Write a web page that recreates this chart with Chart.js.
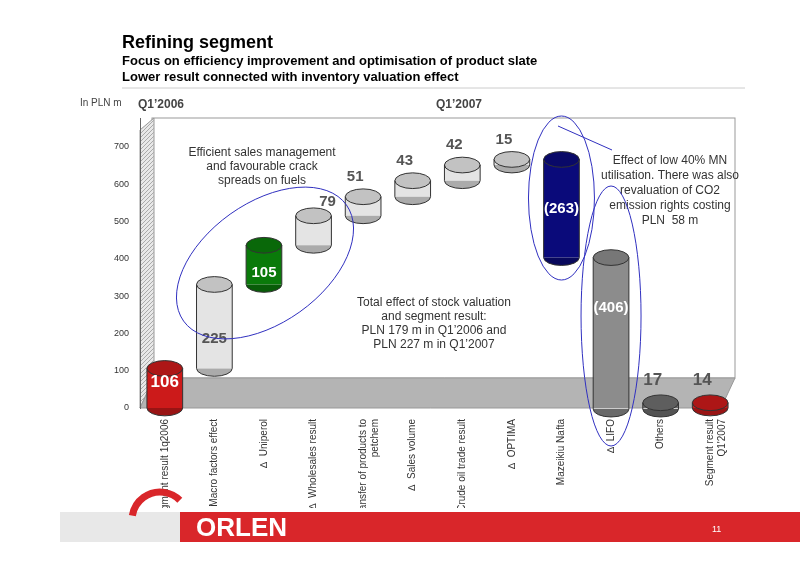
<!DOCTYPE html>
<html>
<head>
<meta charset="utf-8">
<script src="https://cdn.jsdelivr.net/npm/chart.js@4"></script>
<style>
  html, body { margin: 0; padding: 0; background: #fff; }
  #wrap { width: 800px; height: 565px; }
</style>
</head>
<body>
<div id="wrap"><canvas id="chart" width="800" height="565"></canvas></div>
<script>
// ============================================
// REFINING SEGMENT WATERFALL
// ============================================

const categories = [
    'Segment result 1q2006',
    '\u2206  Macro factors effect',
    '\u2206  Uniperol',
    '\u2206  Wholesales result',
    ['\u2206Transfer of products to', 'petchem'],
    '\u2206  Sales volume',
    '\u2206  Crude oil trade result',
    '\u2206  OPTIMA',
    'Mazeikiu Nafta',
    '\u2206  LIFO',
    'Others',
    ['Segment result', 'Q1\'2007']
];
const changes = [106, 225, 105, 79, 51, 43, 42, 15, -263, -406, 17, 14];
const valueLabels = ['106', '225', '105', '79', '51', '43', '42', '15', '(263)', '(406)', '17', '14'];
const barColors = ['#cc1a1a', '#e4e4e4', '#0a7a0a', '#e4e4e4', '#e4e4e4', '#e4e4e4', '#e4e4e4', '#e4e4e4',
                   '#0a0a7a', '#8c8c8c', '#6e6e6e', '#cc1a1a'];
const yTicks = [0, 100, 200, 300, 400, 500, 600, 700];

// build floating ranges: first and last bars stand on zero
const ranges = [];
let running = 0;
changes.forEach((v, i) => {
    if (i === 0 || i === changes.length - 1) {
        ranges.push([0, v]);
        running = v;
    } else {
        const next = running + v;
        ranges.push([Math.min(running, next), Math.max(running, next)]);
        running = next;
    }
});

function shade(hex, f) {
    const n = parseInt(hex.slice(1), 16);
    const c = [(n >> 16) & 255, (n >> 8) & 255, n & 255].map(x => Math.max(0, Math.min(255, Math.round(x * f))));
    return `rgb(${c[0]},${c[1]},${c[2]})`;
}

const decorPlugin = {
    id: 'decor',
    beforeDraw(chart) {
        const { ctx, chartArea: a } = chart;
        ctx.save();
        ctx.fillStyle = '#ffffff';
        ctx.fillRect(a.left, a.top, a.right - a.left, a.bottom - a.top);
        ctx.strokeStyle = '#999';
        ctx.lineWidth = 1;
        ctx.strokeRect(a.left + 12, a.top, a.right - a.left - 12, a.bottom - a.top - 30);
        // left hatched wall
        ctx.fillStyle = '#e8e8e8';
        ctx.beginPath();
        ctx.moveTo(a.left, a.top + 12); ctx.lineTo(a.left + 14, a.top);
        ctx.lineTo(a.left + 14, a.bottom - 30); ctx.lineTo(a.left, a.bottom);
        ctx.closePath(); ctx.fill(); ctx.stroke();
        ctx.save(); ctx.clip();
        ctx.strokeStyle = '#aaa';
        for (let y = a.top - 30; y < a.bottom + 30; y += 4) {
            ctx.beginPath(); ctx.moveTo(a.left, y + 14); ctx.lineTo(a.left + 14, y); ctx.stroke();
        }
        ctx.restore();
        // floor
        ctx.fillStyle = '#b4b4b4';
        ctx.beginPath();
        ctx.moveTo(a.left, a.bottom); ctx.lineTo(a.left + 14, a.bottom - 30);
        ctx.lineTo(a.right, a.bottom - 30); ctx.lineTo(a.right - 14, a.bottom);
        ctx.closePath(); ctx.fill(); ctx.stroke();
        ctx.restore();
    },
    afterDatasetsDraw(chart) {
        const { ctx } = chart;
        const meta = chart.getDatasetMeta(0);
        ctx.save();
        meta.data.forEach((bar, i) => {
            const w = bar.width;
            const cx = bar.x;
            const top = Math.min(bar.y, bar.base);
            const bot = Math.max(bar.y, bar.base);
            const rx = w / 2, ry = Math.max(4, w * 0.22);
            ctx.fillStyle = shade(barColors[i], 0.75);
            ctx.beginPath(); ctx.ellipse(cx, bot, rx, ry, 0, 0, Math.PI); ctx.fill();
            ctx.fillStyle = shade(barColors[i], 0.85);
            ctx.strokeStyle = '#333';
            ctx.lineWidth = 1;
            ctx.beginPath(); ctx.ellipse(cx, top, rx, ry, 0, 0, Math.PI * 2); ctx.fill(); ctx.stroke();
            ctx.beginPath();
            ctx.moveTo(cx - rx, top); ctx.lineTo(cx - rx, bot);
            ctx.moveTo(cx + rx, top); ctx.lineTo(cx + rx, bot);
            ctx.stroke();
            ctx.beginPath(); ctx.ellipse(cx, bot, rx, ry, 0, 0, Math.PI); ctx.stroke();
        });
        // value labels
        ctx.textAlign = 'center';
        ctx.textBaseline = 'middle';
        meta.data.forEach((bar, i) => {
            const top = Math.min(bar.y, bar.base);
            const bot = Math.max(bar.y, bar.base);
            let x = bar.x, y, col = '#555';
            ctx.font = 'bold 15px "Liberation Sans", Arial, sans-serif';
            if (i === 0) { y = bot - 26; col = '#fff'; ctx.font = 'bold 17px "Liberation Sans", Arial, sans-serif'; }
            else if (i === 1) { y = (top + bot) / 2 + 12; }
            else if (i === 2) { y = top + 28; col = '#fff'; }
            else if (i === 8 || i === 9) { y = (top + bot) / 2 - (i === 8 ? 0 : 25); col = '#fff'; }
            else if (i === 3) { y = top - 14; x += 14; }
            else if (i >= 10) { y = top - 22; x -= 8; ctx.font = 'bold 17px "Liberation Sans", Arial, sans-serif'; }
            else { y = top - 20; x -= 8; }
            ctx.fillStyle = col;
            ctx.fillText(valueLabels[i], x, y);
        });
        ctx.restore();
    },
    afterDraw(chart) {
        const { ctx } = chart;
        const m = chart.getDatasetMeta(0).data;
        ctx.save();
        ctx.fillStyle = '#000';
        ctx.textAlign = 'left'; ctx.textBaseline = 'alphabetic';
        ctx.font = 'bold 18px "Liberation Sans", Arial, sans-serif';
        ctx.fillText('Refining segment', 122, 48);
        ctx.font = 'bold 13px "Liberation Sans", Arial, sans-serif';
        ctx.fillText('Focus on efficiency improvement and optimisation of product slate', 122, 65);
        ctx.fillText('Lower result connected with inventory valuation effect', 122, 81);
        ctx.strokeStyle = '#ccc'; ctx.lineWidth = 1;
        ctx.beginPath(); ctx.moveTo(122, 88); ctx.lineTo(745, 88); ctx.stroke();
        ctx.font = '10px "Liberation Sans", Arial, sans-serif';
        ctx.fillStyle = '#444';
        ctx.fillText('In PLN m', 80, 106);
        ctx.font = 'bold 12px "Liberation Sans", Arial, sans-serif';
        ctx.fillText('Q1\u20192006', 138, 108);
        ctx.fillText('Q1\u20192007', 436, 108);
        ctx.font = '12px "Liberation Sans", Arial, sans-serif';
        ctx.fillStyle = '#333';
        ctx.textAlign = 'center';
        ['Efficient sales management', 'and favourable crack', 'spreads on fuels']
            .forEach((t, k) => ctx.fillText(t, 262, 156 + k * 14));
        ['Total effect of stock valuation', 'and segment result:', 'PLN 179 m in Q1\u20192006 and', 'PLN 227 m in Q1\u20192007']
            .forEach((t, k) => ctx.fillText(t, 434, 306 + k * 14));
        ['Effect of low 40% MN', 'utilisation. There was also', 'revaluation of CO2', 'emission rights costing', 'PLN  58 m']
            .forEach((t, k) => ctx.fillText(t, 670, 164 + k * 15));
        ctx.strokeStyle = '#3030c0'; ctx.lineWidth = 1;
        ctx.beginPath(); ctx.ellipse(265, 263, 100, 60, -0.62, 0, Math.PI * 2); ctx.stroke();
        ctx.beginPath(); ctx.ellipse(m[8].x, 198, 33, 82, 0, 0, Math.PI * 2); ctx.stroke();
        ctx.beginPath(); ctx.ellipse(m[9].x, 316, 30, 130, 0, 0, Math.PI * 2); ctx.stroke();
        ctx.beginPath(); ctx.moveTo(558, 126); ctx.lineTo(612, 150); ctx.stroke();
        // footer
        ctx.fillStyle = '#e8e8e8'; ctx.fillRect(60, 512, 740, 30);
        ctx.fillStyle = '#d9262a'; ctx.fillRect(180, 512, 620, 30);
        ctx.fillStyle = '#fff';
        ctx.font = 'bold 26px "Liberation Sans", Arial, sans-serif';
        ctx.textAlign = 'left';
        ctx.fillText('ORLEN', 196, 536);
        ctx.font = '9px "Liberation Sans", Arial, sans-serif';
        ctx.fillText('11', 712, 532);
        ctx.strokeStyle = '#d9262a'; ctx.lineWidth = 7;
        ctx.beginPath(); ctx.arc(160, 520, 28, Math.PI * 1.05, Math.PI * 1.75); ctx.stroke();
        ctx.restore();
    }
};

new Chart(document.getElementById('chart'), {
    type: 'bar',
    data: {
        labels: categories,
        datasets: [{
            data: ranges,
            backgroundColor: barColors,
            borderWidth: 0,
            barPercentage: 0.72,
            categoryPercentage: 1
        }]
    },
    options: {
        responsive: false,
        animation: false,
        layout: { padding: { left: 100, right: 65, top: 118, bottom: 57 } },
        plugins: { legend: { display: false }, tooltip: { enabled: false } },
        scales: {
            x: {
                grid: { display: false },
                border: { display: false },
                ticks: {
                    minRotation: 90, maxRotation: 90, autoSkip: false,
                    color: '#333',
                    font: { size: 10, family: '"Liberation Sans", Arial, sans-serif' }
                },
                afterFit(s) { s.height = 100; }
            },
            y: {
                min: 0, max: 777,
                grid: { display: false },
                border: { color: '#666' },
                afterBuildTicks(s) { s.ticks = yTicks.map(v => ({ value: v })); },
                ticks: {
                    color: '#333',
                    font: { size: 9, family: '"Liberation Sans", Arial, sans-serif' }
                },
                afterFit(s) { s.width = 40; }
            }
        }
    },
    plugins: [decorPlugin]
});
</script>
</body>
</html>
